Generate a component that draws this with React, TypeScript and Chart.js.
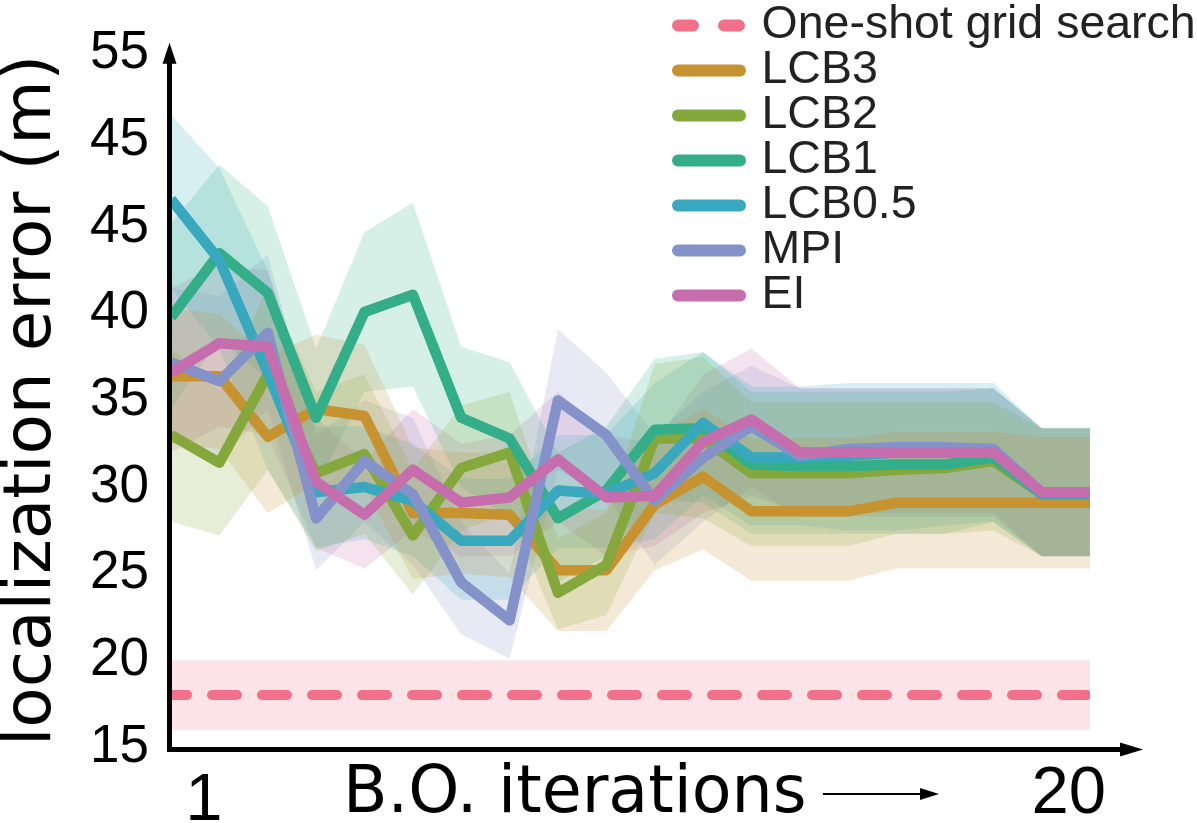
import React, { useEffect, useRef } from 'react';
import { Chart, registerables } from 'chart.js';

Chart.register(...registerables);

// ---------- data ----------
const ITERATIONS = [1, 2, 3, 4, 5, 6, 7, 8, 9, 10, 11, 12, 13, 14, 15, 16, 17, 18, 19, 20];

const SERIES_NAMES = ['One-shot grid search', 'LCB3', 'LCB2', 'LCB1', 'LCB0.5', 'MPI', 'EI'];
const SERIES_COLORS = ['#f1718a', '#c79230', '#84a83c', '#33ae89', '#39a8bf', '#8591c9', '#c66dad'];

const ONESHOT_MEAN = [18, 18, 18, 18, 18, 18, 18, 18, 18, 18, 18, 18, 18, 18, 18, 18, 18, 18, 18, 18];
const ONESHOT_UP = [20, 20, 20, 20, 20, 20, 20, 20, 20, 20, 20, 20, 20, 20, 20, 20, 20, 20, 20, 20];
const ONESHOT_LO = [16, 16, 16, 16, 16, 16, 16, 16, 16, 16, 16, 16, 16, 16, 16, 16, 16, 16, 16, 16];

const LCB3_MEAN = [36.4, 36.4, 32.9, 34.5, 34.1, 28.5, 28.5, 28.4, 25.2, 25.2, 29.0, 30.6, 28.6, 28.6, 28.6, 29.1, 29.1, 29.1, 29.1, 29.1];
const LCB3_UP = [40.3, 40.0, 37.5, 38.8, 38.2, 32.3, 32.0, 32.0, 28.7, 28.7, 33.0, 34.5, 32.8, 32.8, 32.8, 33.2, 33.2, 33.2, 32.9, 32.9];
const LCB3_LO = [32.5, 32.2, 28.5, 30.2, 30.0, 24.7, 25.0, 24.8, 21.7, 21.7, 25.2, 26.4, 24.6, 24.6, 24.6, 25.3, 25.3, 25.3, 25.3, 25.3];

const LCB2_MEAN = [33.0, 31.4, 36.5, 30.8, 31.9, 27.2, 31.1, 32.0, 23.9, 25.5, 32.8, 32.8, 30.8, 30.8, 30.8, 31.0, 31.1, 31.5, 29.6, 29.6];
const LCB2_UP = [38.0, 35.6, 41.5, 35.5, 36.5, 31.0, 34.7, 35.5, 27.0, 28.5, 37.1, 37.5, 34.9, 34.9, 34.9, 34.9, 34.9, 34.9, 33.4, 33.4];
const LCB2_LO = [28.0, 27.2, 31.0, 26.3, 27.3, 23.8, 27.5, 28.5, 21.8, 22.6, 28.5, 28.2, 26.6, 26.6, 26.6, 27.3, 27.3, 27.5, 26.0, 26.0];

const LCB1_MEAN = [39.8, 43.5, 41.2, 34.0, 40.1, 41.1, 34.0, 32.8, 28.2, 29.8, 33.3, 33.4, 31.3, 31.2, 31.2, 31.3, 31.3, 31.7, 29.6, 29.6];
const LCB1_UP = [45.2, 48.6, 46.2, 38.0, 44.7, 46.4, 38.1, 37.2, 32.0, 33.5, 37.4, 37.8, 35.5, 35.5, 35.5, 35.5, 35.5, 35.7, 33.4, 33.4];
const LCB1_LO = [34.5, 38.5, 36.2, 30.0, 35.5, 35.8, 30.0, 28.2, 24.5, 26.0, 29.3, 29.1, 27.3, 27.3, 27.3, 27.3, 27.3, 28.0, 26.0, 26.0];

const LCB05_MEAN = [46.6, 43.1, 36.6, 29.7, 30.0, 29.2, 26.9, 26.9, 29.8, 29.6, 30.8, 33.7, 31.7, 31.7, 31.8, 32.0, 32.0, 32.0, 29.6, 29.6];
const LCB05_UP = [51.5, 48.4, 42.5, 33.5, 33.5, 32.5, 30.5, 30.5, 33.0, 33.0, 36.0, 37.8, 35.8, 35.8, 36.0, 36.0, 36.0, 36.0, 33.4, 33.4];
const LCB05_LO = [41.5, 38.0, 31.0, 26.5, 27.0, 26.0, 23.5, 23.5, 26.5, 26.5, 27.0, 29.5, 27.8, 27.8, 27.5, 27.5, 27.8, 28.0, 26.0, 26.0];

const MPI_MEAN = [37.2, 36.1, 38.9, 28.2, 31.5, 29.6, 24.5, 22.3, 35.0, 33.0, 29.2, 31.7, 33.5, 31.8, 32.2, 32.3, 32.3, 32.2, 29.7, 29.7];
const MPI_UP = [41.5, 41.0, 43.4, 33.0, 35.0, 34.0, 28.0, 25.0, 39.1, 36.6, 33.0, 35.5, 37.0, 35.7, 35.7, 35.7, 35.7, 35.7, 33.4, 33.4];
const MPI_LO = [33.0, 31.5, 34.5, 25.2, 28.0, 25.5, 21.5, 20.1, 31.0, 29.5, 25.5, 28.0, 30.0, 28.3, 28.3, 28.3, 28.3, 28.3, 26.0, 26.0];

const EI_MEAN = [36.6, 38.3, 38.1, 30.3, 28.4, 31.0, 29.1, 29.4, 31.6, 29.4, 29.5, 32.6, 33.9, 32.0, 32.0, 32.0, 32.0, 32.0, 29.7, 29.7];
const EI_UP = [41.5, 42.8, 42.5, 34.0, 31.5, 34.5, 32.5, 33.0, 35.5, 33.0, 32.5, 36.5, 38.0, 35.7, 35.7, 35.7, 35.7, 35.7, 33.4, 33.4];
const EI_LO = [32.0, 33.5, 33.0, 26.5, 25.3, 27.5, 26.0, 26.0, 28.0, 26.0, 26.6, 28.5, 29.5, 28.5, 28.5, 28.5, 28.5, 28.5, 26.0, 26.0];

const Y_TICK_VALUES = [15, 20, 25, 30, 35, 40, 45, 50, 55];
const Y_TICK_LABELS = ['15', '20', '25', '30', '35', '40', '45', '45', '55'];
const X_TICK_LABELS = ['1', '20'];
const X_TITLE = 'B.O. iterations';
const Y_TITLE = 'localization error (m)';

// ---------- helpers ----------
const MEANS = [ONESHOT_MEAN, LCB3_MEAN, LCB2_MEAN, LCB1_MEAN, LCB05_MEAN, MPI_MEAN, EI_MEAN];
const UPS = [ONESHOT_UP, LCB3_UP, LCB2_UP, LCB1_UP, LCB05_UP, MPI_UP, EI_UP];
const LOS = [ONESHOT_LO, LCB3_LO, LCB2_LO, LCB1_LO, LCB05_LO, MPI_LO, EI_LO];

function rgba(hex: string, a: number) {
  const n = parseInt(hex.slice(1), 16);
  return `rgba(${(n >> 16) & 255},${(n >> 8) & 255},${n & 255},${a})`;
}
const pts = (arr: number[]) => arr.map((v, i) => ({ x: ITERATIONS[i], y: v }));

function buildDatasets() {
  const ds: any[] = [];
  SERIES_NAMES.forEach((name, s) => {
    ds.push({
      label: name + ' upper', data: pts(UPS[s]), borderWidth: 0, pointRadius: 0,
      fill: false, order: 100, borderColor: 'transparent',
    });
    ds.push({
      label: name + ' lower', data: pts(LOS[s]), borderWidth: 0, pointRadius: 0,
      fill: '-1', backgroundColor: rgba(SERIES_COLORS[s], 0.2), order: 100, borderColor: 'transparent',
    });
  });
  SERIES_NAMES.forEach((name, s) => {
    ds.push({
      label: name, data: pts(MEANS[s]), borderColor: SERIES_COLORS[s], borderWidth: s === 0 ? 10 : 10.5,
      pointRadius: 0, fill: false, order: 10 - s, tension: 0,
      borderJoinStyle: 'round', borderCapStyle: s === 0 ? 'round' : 'butt',
      borderDash: s === 0 ? [25, 25] : [], borderDashOffset: s === 0 ? 9 : 0,
    });
  });
  return ds;
}

const decorPlugin = {
  id: 'decor',
  afterDraw(chart: any) {
    const { ctx, chartArea: ca, scales } = chart;
    const xs = scales.x;
    ctx.save();
    ctx.strokeStyle = '#000';
    ctx.fillStyle = '#000';
    // y axis with arrow
    const ax = ca.left - 1.5;
    const ay = ca.bottom + 2.5;
    ctx.lineWidth = 5;
    ctx.lineCap = 'butt';
    ctx.beginPath();
    ctx.moveTo(ax, ay + 2.5);
    ctx.lineTo(ax, ca.top + 8);
    ctx.stroke();
    ctx.beginPath();
    ctx.moveTo(ax, ca.top - 11);
    ctx.lineTo(ax - 7, ca.top + 10);
    ctx.lineTo(ax + 7, ca.top + 10);
    ctx.closePath();
    ctx.fill();
    // x axis with arrow
    ctx.beginPath();
    ctx.moveTo(ax - 2.5, ay);
    ctx.lineTo(ca.right + 33, ay);
    ctx.stroke();
    ctx.beginPath();
    ctx.moveTo(ca.right + 53, ay);
    ctx.lineTo(ca.right + 30, ay - 7);
    ctx.lineTo(ca.right + 30, ay + 7);
    ctx.closePath();
    ctx.fill();

    // x tick labels
    ctx.font = '67px "Liberation Sans"';
    ctx.textBaseline = 'alphabetic';
    ctx.textAlign = 'center';
    ctx.fillText(X_TICK_LABELS[0], xs.getPixelForValue(ITERATIONS[0]) + 33, ca.bottom + 73);
    ctx.textAlign = 'right';
    ctx.fillText(X_TICK_LABELS[1], xs.getPixelForValue(ITERATIONS[ITERATIONS.length - 1]) + 16, ca.bottom + 66);

    // x title + arrow
    ctx.font = '65px "DejaVu Sans"';
    ctx.textAlign = 'left';
    ctx.fillText(X_TITLE, 343, ca.bottom + 65);
    ctx.lineWidth = 2;
    ctx.beginPath();
    ctx.moveTo(823, ca.bottom + 47);
    ctx.lineTo(925, ca.bottom + 47);
    ctx.stroke();
    ctx.beginPath();
    ctx.moveTo(939, ca.bottom + 47);
    ctx.lineTo(920, ca.bottom + 41);
    ctx.lineTo(920, ca.bottom + 53);
    ctx.closePath();
    ctx.fill();

    // legend
    ctx.font = '46.5px "Liberation Sans"';
    ctx.textBaseline = 'middle';
    ctx.textAlign = 'left';
    SERIES_NAMES.forEach((name, k) => {
      const cy = 25.5 + 45 * k;
      ctx.strokeStyle = SERIES_COLORS[k];
      ctx.lineWidth = 12;
      ctx.lineCap = 'round';
      ctx.setLineDash(k === 0 ? [15, 31] : []);
      ctx.beginPath();
      ctx.moveTo(678, cy);
      ctx.lineTo(740, cy);
      ctx.stroke();
      ctx.setLineDash([]);
      ctx.fillStyle = '#222';
      ctx.fillText(name, 761.5, cy);
    });
    ctx.restore();
  },
};

export default function App() {
  const ref = useRef<HTMLCanvasElement>(null);
  useEffect(() => {
    const chart = new Chart(ref.current as HTMLCanvasElement, {
      type: 'line',
      data: { datasets: buildDatasets() },
      options: {
        animation: false,
        responsive: false,
        devicePixelRatio: 1,
        events: [],
        layout: { padding: { top: 43, right: 107, bottom: 76, left: 0 } },
        plugins: {
          legend: { display: false },
          tooltip: { enabled: false },
          filler: { drawTime: 'beforeDatasetsDraw' },
        },
        scales: {
          x: { type: 'linear', min: 1, max: 20, display: false },
          y: {
            type: 'linear',
            min: 15,
            max: 55,
            afterBuildTicks: (s: any) => { s.ticks = Y_TICK_VALUES.map((v) => ({ value: v })); },
            afterFit: (s: any) => { s.width = 171; },
            ticks: {
              autoSkip: false,
              padding: 22,
              color: '#000',
              font: { family: 'Liberation Sans', size: 53 },
              callback: (_v: any, i: number) => Y_TICK_LABELS[i],
            },
            grid: { display: false, drawTicks: false },
            border: { display: false },
            title: {
              display: true,
              text: Y_TITLE,
              color: '#000',
              padding: 0,
              font: { family: 'DejaVu Sans', size: 66, lineHeight: 1 },
            },
          },
        },
      } as any,
      plugins: [decorPlugin],
    });
    return () => chart.destroy();
  }, []);
  return (
    <div style={{ position: 'fixed', left: 0, top: 0, width: 1197, height: 823, background: '#fff' }}>
      <canvas ref={ref} width={1197} height={823} style={{ display: 'block', width: 1197, height: 823 }} />
    </div>
  );
}
